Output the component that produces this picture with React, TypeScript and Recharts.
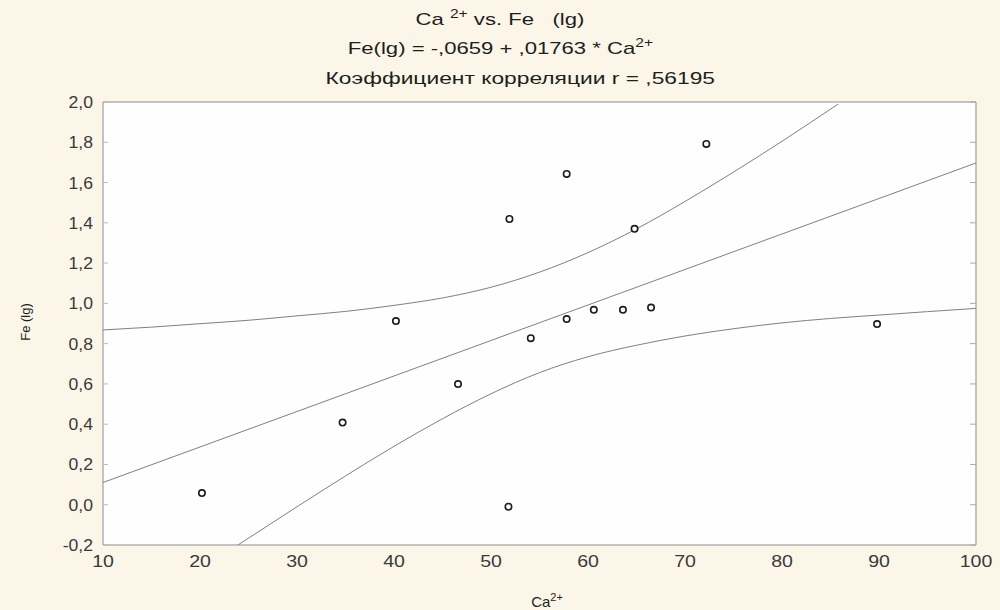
import React from "react";
import { ComposedChart, Scatter, Line, XAxis, YAxis, CartesianGrid, ReferenceLine } from "recharts";

// Ca2+ vs Fe (lg) observations
const caValues = [20.2, 34.7, 40.2, 46.6, 51.8, 51.9, 54.1, 57.8, 57.8, 60.6, 63.6, 64.8, 66.5, 72.2, 89.8];
const feValues = [0.058, 0.408, 0.912, 0.599, -0.01, 1.419, 0.827, 0.922, 1.643, 0.968, 0.968, 1.37, 0.979, 1.792, 0.897];

// regression Fe(lg) = -0.0659 + 0.01763 * Ca2+
const intercept = -0.0659;
const slope = 0.01763;
const fitX = [10, 100];

// 95% confidence band
const upperX = [10, 15, 20, 25, 30, 35, 40, 45, 50, 55, 60, 65, 70, 75, 80, 85.8];
const upperY = [0.868, 0.882, 0.899, 0.916, 0.938, 0.96, 0.99, 1.027, 1.08, 1.155, 1.252, 1.37, 1.506, 1.652, 1.805, 1.99];
const lowerX = [23.9, 25, 30, 35, 40, 45, 50, 55, 60, 65, 70, 75, 80, 85, 90, 95, 100];
const lowerY = [-0.2, -0.166, -0.01, 0.143, 0.29, 0.427, 0.551, 0.656, 0.735, 0.792, 0.838, 0.874, 0.903, 0.925, 0.942, 0.959, 0.975];

const xTicks = [10, 20, 30, 40, 50, 60, 70, 80, 90, 100];
const yTicks = [-0.2, 0, 0.2, 0.4, 0.6, 0.8, 1.0, 1.2, 1.4, 1.6, 1.8, 2.0];

const points = caValues.map((x, i) => ({ x, y: feValues[i] }));
const fitLine = fitX.map((x) => ({ x, y: intercept + slope * x }));
const upperBand = upperX.map((x, i) => ({ x, y: upperY[i] }));
const lowerBand = lowerX.map((x, i) => ({ x, y: lowerY[i] }));

const FONT = "'Liberation Sans', Arial, sans-serif";
const BOX = "#8c8c8c";
const CURVE = "#808080";

const fmt = (v: number) => v.toFixed(1).replace(".", ",");

function LeftTick({ x, y, payload }: any) {
  return (
    <g>
      <text transform={`translate(${x - 2},${y + 6}) scale(1.1,1)`} textAnchor="end" fontSize={16} fill="#3a3a3a" fontFamily={FONT}>
        {fmt(payload.value)}
      </text>
      <line x1={x + 8} x2={x + 13} y1={y} y2={y} stroke="#bbb" />
    </g>
  );
}

function RightTick({ x, y }: any) {
  return <line x1={x - 6} x2={x} y1={y} y2={y} stroke="#aaa" />;
}

function BottomTick({ x, y, payload }: any) {
  return (
    <text transform={`translate(${x},${y + 14}) scale(1.15,1)`} textAnchor="middle" fontSize={17} fill="#3a3a3a" fontFamily={FONT}>
      {payload.value}
    </text>
  );
}

const Ring = ({ cx, cy }: any) => <circle cx={cx} cy={cy} r={3.2} fill="#fff" stroke="#1c1c1c" strokeWidth={1.6} />;

export default function App() {
  return (
    <div style={{ position: "absolute", left: 0, top: 0, width: 1000, height: 610, background: "#fbf6e8", fontFamily: FONT, color: "#1e1e1e" }}>
      <div style={{ position: "absolute", top: 7, left: 0, width: 1000, textAlign: "center", fontSize: 17, whiteSpace: "pre" }}>
        <span style={{ display: "inline-block", transform: "scaleX(1.3)" }}>
          Ca <sup style={{ fontSize: 12 }}>2+</sup> vs. Fe   (lg)
        </span>
      </div>
      <div style={{ position: "absolute", top: 36, left: 0, width: 1000, textAlign: "center", fontSize: 17, whiteSpace: "pre" }}>
        <span style={{ display: "inline-block", transform: "scaleX(1.3)" }}>
          Fe(lg) = -,0659 + ,01763 * Ca<sup style={{ fontSize: 12 }}>2+</sup>
        </span>
      </div>
      <div style={{ position: "absolute", top: 69, left: 20, width: 1000, textAlign: "center", fontSize: 17, whiteSpace: "pre" }}>
        <span style={{ display: "inline-block", transform: "scaleX(1.34)" }}>Коэффициент корреляции r = ,56195</span>
      </div>
      <div style={{ position: "absolute", left: 25, top: 322, fontSize: 13, transform: "translate(-50%, -50%) rotate(-90deg)", whiteSpace: "nowrap" }}>
        Fe (lg)
      </div>
      <div style={{ position: "absolute", left: 547, top: 600, fontSize: 15, transform: "translate(-50%, -50%)", whiteSpace: "nowrap" }}>
        Ca<sup style={{ fontSize: 11, marginLeft: 0 }}>2+</sup>
      </div>

      <ComposedChart width={1000} height={610} margin={{ top: 102, right: 0, bottom: 0, left: 0 }}>
        <CartesianGrid horizontal={false} vertical={false} fill="#fefefe" />
        <XAxis
          dataKey="x"
          type="number"
          domain={[10, 100]}
          ticks={xTicks}
          allowDataOverflow
          height={65}
          axisLine={{ stroke: BOX }}
          tickLine={false}
          tick={<BottomTick />}
        />
        <YAxis
          dataKey="y"
          type="number"
          domain={[-0.2, 2.0]}
          ticks={yTicks}
          allowDataOverflow
          width={103}
          tickSize={0}
          tickMargin={8}
          axisLine={{ stroke: BOX }}
          tickLine={false}
          tick={<LeftTick />}
        />
        <YAxis
          yAxisId="right"
          orientation="right"
          type="number"
          domain={[-0.2, 2.0]}
          ticks={yTicks}
          allowDataOverflow
          width={24}
          tickSize={0}
          tickMargin={0}
          axisLine={{ stroke: BOX }}
          tickLine={false}
          tick={<RightTick />}
        />
        <ReferenceLine y={2.0} stroke={BOX} />
        <Line data={upperBand} dataKey="y" type="monotone" stroke={CURVE} strokeWidth={1} dot={false} isAnimationActive={false} />
        <Line data={fitLine} dataKey="y" type="linear" stroke={CURVE} strokeWidth={1} dot={false} isAnimationActive={false} />
        <Line data={lowerBand} dataKey="y" type="monotone" stroke={CURVE} strokeWidth={1} dot={false} isAnimationActive={false} />
        <Scatter data={points} dataKey="y" shape={<Ring />} isAnimationActive={false} />
      </ComposedChart>
    </div>
  );
}
